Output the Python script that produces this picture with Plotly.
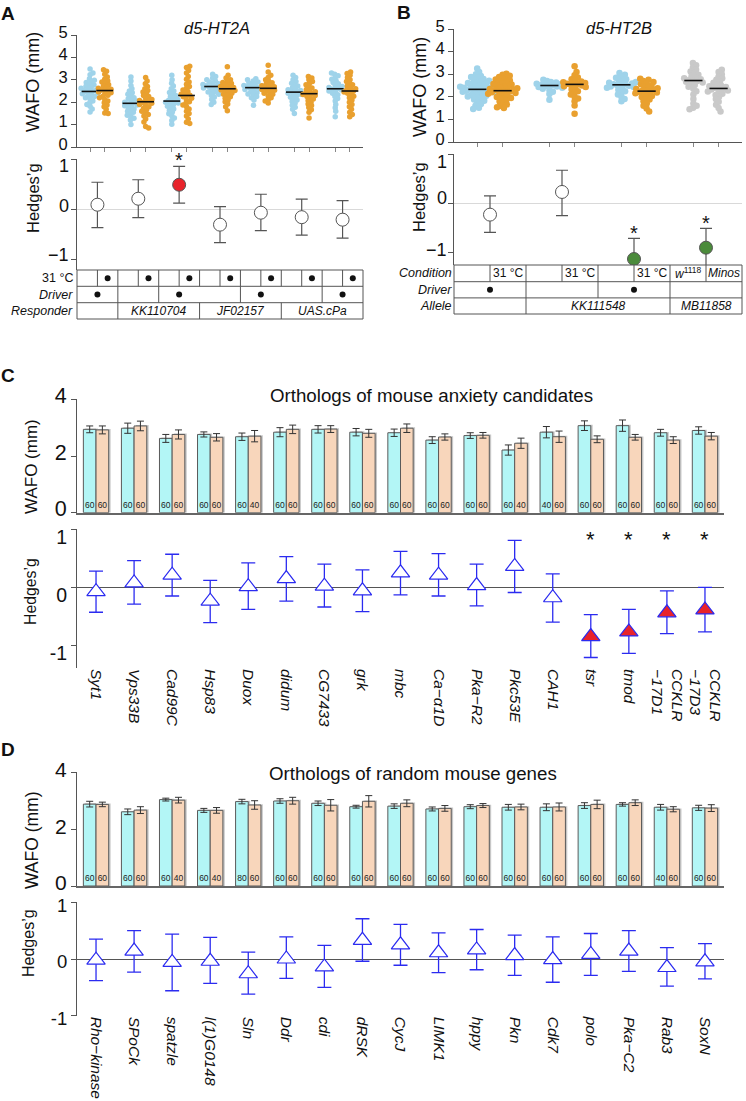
import plotly.graph_objects as go
import numpy as np

W, H = 746, 1101
FONT = "Liberation Sans, Arial, Helvetica, sans-serif"

# ---------------- DATA ----------------
# Panel A: d5-HT2A (WAFO, mm) per group: blue (control temp) / orange (31 C)
A_blue = [
    [3.48, 3.3, 3.22, 3.05, 2.98, 2.92, 2.88, 2.8, 2.77, 2.71, 2.68, 2.62, 2.6, 2.55, 2.52, 2.5, 2.47, 2.45, 2.41, 2.38, 2.33, 2.3, 2.26, 2.2, 2.14, 2.05, 1.98, 1.9, 1.82, 1.7, 1.56],
    [3.12, 2.95, 2.75, 2.6, 2.5, 2.42, 2.35, 2.28, 2.2, 2.15, 2.1, 2.05, 2.0, 1.97, 1.95, 1.92, 1.88, 1.84, 1.8, 1.75, 1.7, 1.65, 1.6, 1.55, 1.5, 1.42, 1.35, 1.28, 1.2, 1.0],
    [3.2, 3.0, 2.85, 2.72, 2.6, 2.5, 2.43, 2.36, 2.3, 2.24, 2.18, 2.12, 2.08, 2.05, 2.03, 2.0, 1.96, 1.92, 1.87, 1.82, 1.77, 1.7, 1.63, 1.56, 1.48, 1.4, 1.3, 1.18, 1.02],
    [3.25, 3.15, 3.08, 3.0, 2.95, 2.9, 2.86, 2.82, 2.79, 2.76, 2.73, 2.71, 2.7, 2.68, 2.66, 2.63, 2.6, 2.57, 2.53, 2.5, 2.46, 2.42, 2.36, 2.3, 2.22, 2.12, 2.0, 1.9],
    [3.05, 3.0, 2.95, 2.9, 2.86, 2.82, 2.78, 2.75, 2.72, 2.69, 2.67, 2.65, 2.63, 2.6, 2.57, 2.54, 2.5, 2.46, 2.42, 2.37, 2.32, 2.26, 2.2, 2.1, 1.86],
    [3.2, 3.1, 3.0, 2.92, 2.85, 2.78, 2.72, 2.66, 2.6, 2.56, 2.52, 2.48, 2.46, 2.44, 2.4, 2.36, 2.32, 2.27, 2.22, 2.16, 2.1, 2.03, 1.95, 1.86, 1.78, 1.68, 1.5],
    [3.3, 3.25, 3.18, 3.1, 3.02, 2.95, 2.88, 2.82, 2.76, 2.7, 2.66, 2.62, 2.6, 2.58, 2.55, 2.5, 2.45, 2.4, 2.33, 2.25, 2.16, 2.05, 1.9, 1.75, 1.6, 1.35],
]
A_orange = [
    [3.45, 3.38, 3.25, 3.12, 3.02, 2.95, 2.9, 2.85, 2.78, 2.72, 2.66, 2.62, 2.58, 2.55, 2.53, 2.5, 2.46, 2.42, 2.37, 2.31, 2.25, 2.2, 2.12, 2.05, 1.97, 1.88, 1.8, 1.68, 1.52, 1.5],
    [3.1, 2.95, 2.82, 2.7, 2.6, 2.52, 2.45, 2.38, 2.3, 2.25, 2.18, 2.12, 2.08, 2.04, 2.02, 1.99, 1.95, 1.9, 1.85, 1.8, 1.73, 1.66, 1.6, 1.52, 1.45, 1.38, 1.25, 1.12, 0.92, 0.85],
    [3.6, 3.55, 3.42, 3.3, 3.15, 3.02, 2.9, 2.8, 2.7, 2.62, 2.55, 2.48, 2.42, 2.36, 2.31, 2.29, 2.24, 2.18, 2.1, 2.02, 1.95, 1.88, 1.8, 1.7, 1.6, 1.5, 1.38, 1.25, 1.1, 1.05],
    [3.58, 3.2, 3.08, 3.0, 2.94, 2.88, 2.83, 2.78, 2.74, 2.7, 2.66, 2.63, 2.6, 2.58, 2.55, 2.52, 2.48, 2.44, 2.4, 2.35, 2.3, 2.24, 2.18, 2.1, 2.02, 1.92, 1.8, 1.62],
    [3.65, 3.35, 3.2, 3.1, 3.0, 2.93, 2.87, 2.82, 2.77, 2.73, 2.69, 2.65, 2.63, 2.6, 2.57, 2.53, 2.49, 2.45, 2.4, 2.35, 2.28, 2.2, 2.12, 2.05, 1.96],
    [3.15, 3.08, 3.0, 2.92, 2.85, 2.78, 2.7, 2.63, 2.57, 2.52, 2.47, 2.42, 2.39, 2.37, 2.34, 2.3, 2.25, 2.2, 2.14, 2.08, 2.0, 1.92, 1.85, 1.76, 1.66, 1.55, 1.3],
    [3.35, 3.28, 3.2, 3.1, 3.0, 2.92, 2.85, 2.78, 2.72, 2.66, 2.6, 2.55, 2.51, 2.49, 2.45, 2.4, 2.34, 2.27, 2.2, 2.1, 2.0, 1.9, 1.8, 1.68, 1.55, 1.45, 1.35],
]
A_med_blue = [2.48, 1.95, 2.05, 2.70, 2.65, 2.45, 2.60]
A_med_orange = [2.52, 2.02, 2.30, 2.60, 2.62, 2.38, 2.50]
A_g = [0.09, 0.21, 0.49, -0.31, -0.07, -0.16, -0.21]
A_lo = [-0.37, -0.17, 0.12, -0.67, -0.43, -0.52, -0.58]
A_hi = [0.54, 0.59, 0.86, 0.05, 0.30, 0.20, 0.17]
A_sig = [0, 0, 1, 0, 0, 0, 0]
A_hot = [1, 1, 1, 1, 1, 1, 1]          # 31 C dot in second half of each group
A_driver = [1, 0, 1, 0, 1, 0, 1]
A_responder = ["", "KK110704", "JF02157", "UAS.cPa"]
A_responder_span = [(1, 1), (2, 3), (4, 5), (6, 7)]
G_tick_labels = ["1", "0", "−1"]

# Panel B: d5-HT2B
B_left = [
    [3.25, 3.1, 3.0, 2.92, 2.88, 2.84, 2.79, 2.75, 2.71, 2.68, 2.64, 2.61, 2.58, 2.55, 2.52, 2.5, 2.47, 2.45, 2.42, 2.4, 2.38, 2.36, 2.34, 2.33, 2.31, 2.29, 2.27, 2.25, 2.22, 2.2, 2.17, 2.14, 2.11, 2.08, 2.05, 2.01, 1.97, 1.93, 1.88, 1.82, 1.75, 1.68, 1.6, 1.52, 1.46],
    [2.75, 2.7, 2.66, 2.63, 2.6, 2.58, 2.55, 2.53, 2.51, 2.5, 2.48, 2.46, 2.43, 2.4, 2.36, 2.3, 2.22, 2.12, 1.87],
    [3.05, 2.98, 2.9, 2.84, 2.78, 2.73, 2.69, 2.65, 2.62, 2.59, 2.56, 2.54, 2.53, 2.51, 2.49, 2.46, 2.43, 2.4, 2.36, 2.31, 2.25, 2.18, 2.1, 2.0, 1.9, 1.8],
    [3.5, 3.4, 3.3, 3.2, 3.12, 3.05, 2.98, 2.92, 2.87, 2.82, 2.78, 2.75, 2.72, 2.7, 2.67, 2.63, 2.58, 2.52, 2.45, 2.36, 2.25, 2.1, 1.9, 1.7, 1.6, 1.52, 1.45],
]
B_right = [
    [3.02, 2.98, 2.93, 2.88, 2.84, 2.8, 2.76, 2.72, 2.68, 2.64, 2.6, 2.57, 2.54, 2.5, 2.47, 2.44, 2.41, 2.38, 2.35, 2.32, 2.3, 2.28, 2.27, 2.25, 2.23, 2.2, 2.17, 2.14, 2.11, 2.07, 2.03, 1.99, 1.95, 1.9, 1.85, 1.79, 1.73, 1.66, 1.6, 1.54, 1.5],
    [3.35, 3.1, 2.95, 2.85, 2.78, 2.72, 2.68, 2.64, 2.61, 2.58, 2.56, 2.55, 2.53, 2.5, 2.47, 2.43, 2.38, 2.32, 2.25, 2.18, 2.1, 2.0, 1.92, 1.8, 1.62, 1.25],
    [2.8, 2.75, 2.7, 2.65, 2.6, 2.55, 2.5, 2.46, 2.42, 2.38, 2.34, 2.31, 2.28, 2.26, 2.24, 2.22, 2.19, 2.16, 2.12, 2.08, 2.04, 1.99, 1.94, 1.88, 1.8, 1.7, 1.6, 1.48, 1.35],
    [3.2, 3.1, 3.0, 2.9, 2.82, 2.75, 2.68, 2.62, 2.56, 2.51, 2.47, 2.43, 2.4, 2.37, 2.35, 2.32, 2.28, 2.24, 2.19, 2.14, 2.08, 2.0, 1.9, 1.78, 1.65, 1.5, 1.35],
]
B_med_left = [2.33, 2.50, 2.53, 2.72]
B_med_right = [2.27, 2.55, 2.25, 2.37]
B_g = [-0.23, 0.23, -1.13, -0.90]
B_lo = [-0.59, -0.25, -1.55, -1.30]
B_hi = [0.15, 0.67, -0.71, -0.51]
B_sig = [0, 0, 1, 1]
B_condition = [("", "31 °C"), ("", "31 °C"), ("", "31 °C"), ("<i>w</i><sup>1118</sup>", "<i>Minos</i>")]
B_driver = [1, 0, 1, 0]
B_allele = ["", "KK111548", "MB11858"]
B_allele_span = [(1, 1), (2, 3), (4, 4)]

# Panel C: orthologs of mouse anxiety candidates
C_genes = ["Syt1", "Vps33B", "Cad99C", "Hsp83", "Duox", "didum", "CG7433", "grk", "mbc",
           "Ca−α1D", "Pka−R2", "Pkc53E", "CAH1", "tsr", "tmod", "CCKLR<br>−17D1", "CCKLR<br>−17D3"]
C_ctrl = [2.94, 2.98, 2.62, 2.76, 2.68, 2.84, 2.94, 2.84, 2.82, 2.56, 2.72, 2.21, 2.84, 3.07, 3.07, 2.82, 2.90]
C_hot = [2.92, 3.06, 2.76, 2.66, 2.70, 2.94, 2.95, 2.80, 2.98, 2.67, 2.73, 2.45, 2.68, 2.59, 2.66, 2.56, 2.70]
C_ctrl_err = [0.12, 0.18, 0.14, 0.09, 0.13, 0.16, 0.13, 0.13, 0.13, 0.12, 0.10, 0.18, 0.20, 0.17, 0.20, 0.12, 0.13]
C_hot_err = [0.14, 0.17, 0.16, 0.13, 0.20, 0.15, 0.12, 0.14, 0.15, 0.11, 0.10, 0.18, 0.20, 0.12, 0.10, 0.12, 0.13]
C_n_ctrl = [60, 60, 60, 60, 60, 60, 60, 60, 60, 60, 60, 60, 40, 60, 60, 60, 60]
C_n_hot = [60, 60, 60, 60, 40, 60, 60, 60, 60, 60, 60, 40, 60, 60, 60, 60, 60]
C_g = [-0.075, 0.075, 0.21, -0.24, 0.01, 0.15, 0.02, -0.06, 0.25, 0.21, 0.03, 0.36, -0.18, -0.85, -0.77, -0.44, -0.39]
C_lo = [-0.43, -0.29, -0.15, -0.61, -0.38, -0.24, -0.34, -0.42, -0.13, -0.15, -0.32, -0.09, -0.60, -1.21, -1.14, -0.80, -0.77]
C_hi = [0.28, 0.46, 0.57, 0.12, 0.42, 0.53, 0.40, 0.30, 0.62, 0.58, 0.40, 0.81, 0.23, -0.47, -0.38, -0.06, 0.00]
C_sig = [0, 0, 0, 0, 0, 0, 0, 0, 0, 0, 0, 0, 0, 1, 1, 1, 1]

# Panel D: orthologs of random mouse genes
D_genes = ["Rho−kinase", "SPoCk", "spatzle", "l(1)G0148", "Sln", "Ddr", "cdi", "dRSK", "CycJ",
           "LIMK1", "hppy", "Pkn", "Cdk7", "polo", "Pka−C2", "Rab3", "SoxN"]
D_ctrl = [2.88, 2.61, 3.04, 2.66, 2.97, 2.99, 2.91, 2.79, 2.81, 2.71, 2.79, 2.77, 2.77, 2.83, 2.87, 2.77, 2.75]
D_hot = [2.87, 2.67, 3.02, 2.66, 2.85, 3.00, 2.84, 2.98, 2.91, 2.73, 2.83, 2.78, 2.78, 2.87, 2.93, 2.70, 2.74]
D_ctrl_err = [0.10, 0.10, 0.05, 0.07, 0.08, 0.08, 0.08, 0.05, 0.08, 0.07, 0.07, 0.10, 0.12, 0.10, 0.06, 0.10, 0.09]
D_hot_err = [0.08, 0.12, 0.10, 0.10, 0.15, 0.12, 0.20, 0.20, 0.12, 0.10, 0.07, 0.10, 0.14, 0.15, 0.10, 0.09, 0.12]
D_n_ctrl = [60, 60, 60, 60, 80, 60, 60, 60, 60, 60, 60, 60, 60, 60, 60, 40, 60]
D_n_hot = [60, 60, 40, 40, 60, 60, 60, 60, 60, 60, 60, 60, 60, 60, 60, 60, 60]
D_g = [-0.02, 0.14, -0.06, -0.04, -0.26, 0.00, -0.14, 0.33, 0.25, 0.11, 0.16, 0.06, -0.01, 0.08, 0.14, -0.15, -0.05]
D_lo = [-0.38, -0.23, -0.56, -0.43, -0.62, -0.34, -0.50, -0.04, -0.11, -0.24, -0.19, -0.29, -0.41, -0.29, -0.22, -0.48, -0.35]
D_hi = [0.35, 0.50, 0.44, 0.38, 0.12, 0.39, 0.24, 0.71, 0.61, 0.46, 0.52, 0.42, 0.39, 0.45, 0.50, 0.20, 0.27]

# ---------------- STYLE ----------------
BLUE_DOT = "#9fd3ea"
ORANGE_DOT = "#e9a02f"
GRAY_DOT = "#c9c9c9"
CYAN_BAR = "#b3f6f6"
PEACH_BAR = "#f8d6bb"
RED = "#e8232b"
GREEN = "#4b8b3b"
TRI_BLUE = "#2b2bf0"
LINE = "#555555"


def fx(p):
    return p / W


def fy(p):
    return 1 - p / H


def swarm(vals, d, ypx, center):
    order = sorted(range(len(vals)), key=lambda i: abs(vals[i] - center))
    placed = []
    offs = [0.0] * len(vals)
    for i in order:
        y = vals[i] * ypx
        cands = [0.0]
        for (a, b) in placed:
            dy = y - b
            if abs(dy) < d:
                dx = (d * d - dy * dy) ** 0.5
                cands += [a + dx, a - dx]
        cands.sort(key=abs)
        best = cands[-1]
        for c in cands:
            if all((c - a) ** 2 + (y - b) ** 2 >= d * d - 1e-6 for a, b in placed):
                best = c
                break
        placed.append((best, y))
        offs[i] = best
    return offs


fig = go.Figure()
ann = []
shapes = []


def text(x, y, s, size=12, xanchor="center", yanchor="middle", angle=0, color="#111"):
    ann.append(dict(x=fx(x), y=fy(y), xref="paper", yref="paper", text=s, showarrow=False,
                    font=dict(size=size, color=color, family=FONT), xanchor=xanchor,
                    yanchor=yanchor, textangle=angle, borderpad=0))


def hline(x0, x1, y, color=LINE, w=1):
    shapes.append(dict(type="line", xref="paper", yref="paper", x0=fx(x0), x1=fx(x1),
                       y0=fy(y), y1=fy(y), line=dict(color=color, width=w)))


def vline(x, y0, y1, color=LINE, w=1):
    shapes.append(dict(type="line", xref="paper", yref="paper", x0=fx(x), x1=fx(x),
                       y0=fy(y0), y1=fy(y1), line=dict(color=color, width=w)))


def dot(x, y, r=3.0):
    shapes.append(dict(type="circle", xref="paper", yref="paper", x0=fx(x - r), x1=fx(x + r),
                       y0=fy(y + r), y1=fy(y - r), fillcolor="#111", line=dict(width=0)))


# ---------------- PANEL A ----------------
AX0, AX1 = 77, 363
A_n = len(A_blue)
A_xpx = (AX1 - AX0) / A_n
A_ypx = (147 - 35) / 5.0


def ax_px(v):
    return AX0 + (v - 0.5) * A_xpx


A_off = 0.18
for vals_list, meds, side, col in [(A_blue, A_med_blue, -1, BLUE_DOT), (A_orange, A_med_orange, 1, ORANGE_DOT)]:
    xs, ys = [], []
    for gi, vals in enumerate(vals_list):
        offs = swarm(vals, 3.4, A_ypx, meds[gi])
        xc = gi + 1 + side * A_off
        xs += [xc + o / A_xpx for o in offs]
        ys += vals
    fig.add_trace(go.Scatter(x=xs, y=ys, mode="markers", marker=dict(size=5.5, color=col),
                             xaxis="x", yaxis="y", hoverinfo="skip"))
    fig.add_trace(go.Scatter(x=[g + 1 + side * A_off for g in range(A_n)], y=meds, mode="markers",
                             marker=dict(symbol="line-ew", size=12, line=dict(width=1.6, color="#111")),
                             xaxis="x", yaxis="y", hoverinfo="skip"))

A_x = list(range(1, A_n + 1))
fig.add_trace(go.Scatter(
    x=A_x, y=A_g, mode="markers",
    marker=dict(size=13, color=[RED if s else "white" for s in A_sig], line=dict(color=LINE, width=1)),
    error_y=dict(type="data", symmetric=False, array=[h - g for h, g in zip(A_hi, A_g)],
                 arrayminus=[g - l for g, l in zip(A_g, A_lo)], color=LINE, thickness=1.2, width=6),
    xaxis="x2", yaxis="y2", hoverinfo="skip"))

A_ylo_px = 270.0
A_y2_top = 159.3
A_y2_zero = 209.2
A_y2_unit = (A_y2_zero - A_y2_top)
A_y2_min = -(A_ylo_px - A_y2_zero) / A_y2_unit

for i, s in enumerate(A_sig):
    if s:
        ypx = A_y2_zero - A_hi[i] * A_y2_unit - 10
        text(ax_px(i + 1), ypx + 4, "*", size=20)

# tick labels of the A effect-size axis, placed as in the reference
for lab, ypx in zip(G_tick_labels, [166.5, 205.5, 254.5]):
    text(70, ypx, lab, size=18, xanchor="right")

# table A
rows = [270, 286.3, 302.7, 319]
for r in rows:
    hline(AX0, AX1, r)
vline(AX0, rows[0], rows[-1])
vline(AX1, rows[0], rows[-1])
for g in range(1, A_n + 1):
    vline(ax_px(g), rows[0], rows[1])
    if g < A_n:
        vline(ax_px(g + 0.5), rows[0], rows[1])
    if A_hot[g - 1]:
        dot(ax_px(g + 0.25), (rows[0] + rows[1]) / 2)
    if A_driver[g - 1]:
        dot(ax_px(g), (rows[1] + rows[2]) / 2)
for v in [1.5, 2.5, 4.5, 6.5]:
    vline(ax_px(v), rows[1], rows[2])
for (a, b), lab in zip(A_responder_span, A_responder):
    if b < A_n:
        vline(ax_px(b + 0.5), rows[2], rows[3])
    if lab:
        text(ax_px((a + b) / 2), (rows[2] + rows[3]) / 2, "<i>%s</i>" % lab, size=12)
text(74, (rows[0] + rows[1]) / 2, "31 °C", size=12.5, xanchor="right")
text(74, (rows[1] + rows[2]) / 2, "<i>Driver</i>", size=12.5, xanchor="right")
text(74, (rows[2] + rows[3]) / 2, "<i>Responder</i>", size=12.5, xanchor="right")

# ---------------- PANEL B ----------------
BX0, BX1 = 454, 742
B_n = len(B_left)
B_xpx = (BX1 - BX0) / B_n
B_ypx = (142 - 29) / 5.0


def bx_px(v):
    return BX0 + (v - 0.5) * B_xpx


B_off = 0.175
for vals_list, meds, side, cols in [(B_left, B_med_left, -1, [BLUE_DOT] * 3 + [GRAY_DOT]),
                                    (B_right, B_med_right, 1, [ORANGE_DOT] * 3 + [GRAY_DOT])]:
    xs, ys, cs = [], [], []
    for gi, vals in enumerate(vals_list):
        offs = swarm(vals, 3.9, B_ypx, meds[gi])
        xc = gi + 1 + side * B_off
        xs += [xc + o / B_xpx for o in offs]
        ys += vals
        cs += [cols[gi]] * len(vals)
    fig.add_trace(go.Scatter(x=xs, y=ys, mode="markers", marker=dict(size=6.5, color=cs),
                             xaxis="x3", yaxis="y3", hoverinfo="skip"))
    fig.add_trace(go.Scatter(x=[g + 1 + side * B_off for g in range(B_n)], y=meds, mode="markers",
                             marker=dict(symbol="line-ew", size=13, line=dict(width=1.6, color="#111")),
                             xaxis="x3", yaxis="y3", hoverinfo="skip"))

B_x = list(range(1, B_n + 1))
fig.add_trace(go.Scatter(
    x=B_x, y=B_g, mode="markers",
    marker=dict(size=13, color=[GREEN if s else "white" for s in B_sig], line=dict(color=LINE, width=1)),
    error_y=dict(type="data", symmetric=False, array=[h - g for h, g in zip(B_hi, B_g)],
                 arrayminus=[g - l for g, l in zip(B_g, B_lo)], color=LINE, thickness=1.2, width=6),
    xaxis="x4", yaxis="y4", hoverinfo="skip"))

B_y4_top = 154.0
B_y4_zero = 203.3
B_y4_unit = B_y4_zero - B_y4_top
B_rows = [265, 281.7, 297.9, 314]
B_y4_min = -(B_rows[0] - B_y4_zero) / B_y4_unit

for i, s in enumerate(B_sig):
    if s:
        ypx = B_y4_zero - B_hi[i] * B_y4_unit - 9
        text(bx_px(i + 1), ypx + 4, "*", size=20)

for lab, ypx in zip(G_tick_labels, [161.5, 198.5, 250.0]):
    text(448, ypx, lab, size=18, xanchor="right")

for r in B_rows:
    hline(BX0, BX1, r)
vline(BX0, B_rows[0], B_rows[-1])
vline(BX1, B_rows[0], B_rows[-1])
for g in range(1, B_n + 1):
    vline(bx_px(g), B_rows[0], B_rows[1])
    if g < B_n:
        vline(bx_px(g + 0.5), B_rows[0], B_rows[2])
    left, right = B_condition[g - 1]
    if left:
        text(bx_px(g - 0.25), (B_rows[0] + B_rows[1]) / 2, left, size=12)
    if right:
        text(bx_px(g + 0.25), (B_rows[0] + B_rows[1]) / 2, right, size=12)
    if B_driver[g - 1]:
        dot(bx_px(g), (B_rows[1] + B_rows[2]) / 2)
for (a, b), lab in zip(B_allele_span, B_allele):
    if b < B_n:
        vline(bx_px(b + 0.5), B_rows[2], B_rows[3])
    if lab:
        text(bx_px((a + b) / 2), (B_rows[2] + B_rows[3]) / 2, "<i>%s</i>" % lab, size=12)
text(453, (B_rows[0] + B_rows[1]) / 2, "<i>Condition</i>", size=12.5, xanchor="right")
text(453, (B_rows[1] + B_rows[2]) / 2, "<i>Driver</i>", size=12.5, xanchor="right")
text(453, (B_rows[2] + B_rows[3]) / 2, "<i>Allele</i>", size=12.5, xanchor="right")

# ---------------- PANELS C & D ----------------
CX0, CX1 = 77, 724
BW = 0.333


def bars(ctrl, hot, e1, e2, n1, n2, xa, ya):
    n = len(ctrl)
    xs = list(range(1, n + 1))
    for vals, errs, sgn, col in [(ctrl, e1, -1, CYAN_BAR), (hot, e2, 1, PEACH_BAR)]:
        xb = [x + sgn * BW / 2 for x in xs]
        fig.add_trace(go.Bar(x=[x + 0.05 for x in xb], y=[v + 0.03 for v in vals], width=BW,
                             marker=dict(color="rgba(0,0,0,0.22)", line=dict(width=0)),
                             xaxis=xa, yaxis=ya, hoverinfo="skip"))
        fig.add_trace(go.Bar(x=xb, y=vals, width=BW,
                             marker=dict(color=col, line=dict(color="#5a5a5a", width=1)),
                             error_y=dict(type="data", array=errs, color="#333", thickness=1, width=3.5),
                             xaxis=xa, yaxis=ya, hoverinfo="skip"))
    fig.add_trace(go.Scatter(x=[x - BW / 2 for x in xs] + [x + BW / 2 for x in xs], y=[0.24] * (2 * n),
                             text=[str(v) for v in n1] + [str(v) for v in n2], mode="text",
                             textfont=dict(size=8.5, color="#222", family=FONT),
                             xaxis=xa, yaxis=ya, hoverinfo="skip"))


def hedges(g, lo, hi, sig, xa, ya):
    fig.add_trace(go.Scatter(
        x=list(range(1, len(g) + 1)), y=g, mode="markers",
        marker=dict(symbol="triangle-up", size=16, color=[RED if s else "white" for s in sig],
                    line=dict(color=TRI_BLUE, width=1.2)),
        error_y=dict(type="data", symmetric=False, array=[h - v for h, v in zip(hi, g)],
                     arrayminus=[v - l for v, l in zip(g, lo)], color=TRI_BLUE, thickness=1.3, width=7),
        xaxis=xa, yaxis=ya, hoverinfo="skip"))


bars(C_ctrl, C_hot, C_ctrl_err, C_hot_err, C_n_ctrl, C_n_hot, "x5", "y5")
hedges(C_g, C_lo, C_hi, C_sig, "x6", "y6")
bars(D_ctrl, D_hot, D_ctrl_err, D_hot_err, D_n_ctrl, D_n_hot, "x7", "y7")
hedges(D_g, D_lo, D_hi, [0] * len(D_g), "x8", "y8")

C_xpx = (CX1 - CX0) / len(C_genes)
for i, s in enumerate(C_sig):
    if s:
        text(CX0 + (i + 0.5) * C_xpx, 535 + 4, "*", size=22)

# ---------------- TEXT ----------------
text(8, 14, "<b>A</b>", size=19)
text(404, 13, "<b>B</b>", size=19)
text(8, 376, "<b>C</b>", size=19)
text(8, 749, "<b>D</b>", size=19)
text(217, 28, "<i>d5-HT2A</i>", size=16.5)
text(619, 28, "<i>d5-HT2B</i>", size=16.5)
text(431, 395, "Orthologs of mouse anxiety candidates", size=18.7)
text(413, 773, "Orthologs of random mouse genes", size=18.7)
text(33, 82, "WAFO (mm)", size=18, angle=-90)
text(33, 198, "Hedges’g", size=16.5, angle=-90)
text(420, 87, "WAFO (mm)", size=18, angle=-90)
text(419, 197, "Hedges’g", size=16.5, angle=-90)
text(32, 467, "WAFO (mm)", size=17, angle=-90)
text(31, 592, "Hedges’g", size=15.8, angle=-90)
text(32, 840, "WAFO (mm)", size=17.5, angle=-90)
text(28, 943, "Hedges’g", size=16, angle=-90)


# ---------------- AXES ----------------
# ticklabelshift is in screen pixels (positive = downward for these y axes)
def yax(top, bot, rng, tv, tt, size, anchor, zeroline=False, zc=LINE, shift=0, labels=True):
    return dict(domain=[fy(bot), fy(top)], range=rng, anchor=anchor, showline=True, linecolor=LINE,
                linewidth=1, ticks="outside", ticklen=5, tickcolor=LINE, tickvals=tv, ticktext=tt,
                tickfont=dict(size=size, color="#111", family=FONT), showgrid=False,
                zeroline=zeroline, zerolinecolor=zc, zerolinewidth=1, fixedrange=True,
                automargin=False, ticklabelshift=shift, showticklabels=labels)


def xax(x0, x1, rng, anchor, **kw):
    d = dict(domain=[fx(x0), fx(x1)], range=rng, anchor=anchor, showgrid=False, zeroline=False,
             showline=False, showticklabels=False, ticks="", fixedrange=True, automargin=False)
    d.update(kw)
    return d


A_ticks = sorted([g + s * A_off for g in A_x for s in (-1, 1)])
B_ticks = sorted([g + s * B_off for g in B_x for s in (-1, 1)])

layout = dict(
    width=W, height=H, margin=dict(l=0, r=0, t=0, b=0, pad=0, autoexpand=False), paper_bgcolor="white",
    plot_bgcolor="rgba(0,0,0,0)", showlegend=False, barmode="overlay",
    font=dict(family=FONT, color="#111"),
    xaxis=xax(AX0, AX1, [0.5, A_n + 0.5], "y", showline=True, linecolor=LINE, ticks="outside",
              ticklen=4, tickcolor="#888", tickvals=A_ticks),
    yaxis=yax(35, 147, [0, 5], [0, 1, 2, 3, 4, 5], ["0", "1", "2", "3", "4", "5"], 16.5, "x", shift=-3),
    xaxis2=xax(AX0, AX1, [0.5, A_n + 0.5], "y2"),
    yaxis2=yax(A_y2_top, A_ylo_px, [A_y2_min, 1], [-1, 0, 1], ["−1", "0", "1"], 17.5, "x2",
               zeroline=True, zc="#d9d9d9", labels=False),
    xaxis3=xax(BX0, BX1, [0.5, B_n + 0.5], "y3", showline=True, linecolor=LINE, ticks="outside",
               ticklen=4, tickcolor="#888", tickvals=B_ticks),
    yaxis3=yax(29, 142, [0, 5], [0, 1, 2, 3, 4, 5], ["0", "1", "2", "3", "4", "5"], 16.5, "x3", shift=-3),
    xaxis4=xax(BX0, BX1, [0.5, B_n + 0.5], "y4"),
    yaxis4=yax(B_y4_top, B_rows[0], [B_y4_min, 1], [-1, 0, 1], ["−1", "0", "1"], 17.5, "x4",
               zeroline=True, zc="#d9d9d9", labels=False),
    xaxis5=xax(CX0, CX1, [0.5, len(C_genes) + 0.5], "y5", showline=True, linecolor="#666", linewidth=1.5),
    yaxis5=yax(399.3, 512.7, [0, 4], [0, 2, 4], ["0", "2", "4"], 21.5, "x5", shift=-4),
    xaxis6=xax(CX0, CX1, [0.5, len(C_genes) + 0.5], "y6", showticklabels=True,
               tickvals=list(range(1, len(C_genes) + 1)), ticktext=["<i>%s</i>" % g for g in C_genes],
               tickangle=90, tickfont=dict(size=15.5, color="#111", family=FONT)),
    yaxis6=yax(529.3, 668, [-(668 - 587.3) / 58.0, 1], [-1, 0, 1], ["-1", "0", "1"], 19.5, "x6",
               zeroline=True, zc="#555", shift=8),
    xaxis7=xax(CX0, CX1, [0.5, len(D_genes) + 0.5], "y7", showline=True, linecolor="#666", linewidth=1.5),
    yaxis7=yax(772.3, 886, [0, 4], [0, 2, 4], ["0", "2", "4"], 21, "x7", shift=-3),
    xaxis8=xax(CX0, CX1, [0.5, len(D_genes) + 0.5], "y8", showticklabels=True,
               tickvals=list(range(1, len(D_genes) + 1)), ticktext=["<i>%s</i>" % g for g in D_genes],
               tickangle=90, tickfont=dict(size=15.5, color="#111", family=FONT)),
    yaxis8=yax(902.3, 1015.7, [-1, 1], [-1, 0, 1], ["-1", "0", "1"], 18.5, "x8",
               zeroline=True, zc="#555", shift=3),
    annotations=ann, shapes=shapes,
)
fig.update_layout(**layout)
fig.write_html("out.html", config={"displayModeBar": False},
               post_script="document.body.style.margin='0';document.body.style.overflow='hidden';")
